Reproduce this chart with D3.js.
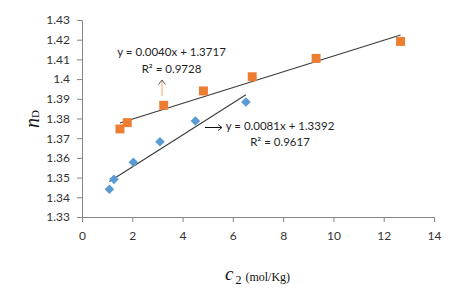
<!DOCTYPE html>
<html>
<head>
<meta charset="utf-8">
<script src="https://cdn.jsdelivr.net/npm/d3@7"></script>
<style>
  body { margin: 0; background: #fff; }
  .tick text { font-family: Lato, "Open Sans", sans-serif; font-size: 12px; fill: #333; }
  .eqn { font-family: Lato, "Open Sans", sans-serif; font-size: 11.5px; fill: #1f1f1f; }
</style>
</head>
<body>
<div id="chart-area"></div>
<script>
// Datos
var blueX = [1.09, 1.27, 2.04, 3.10, 4.51, 6.52];
var blueY = [1.3441, 1.3491, 1.3578, 1.3682, 1.3787, 1.3884];
var orangeX = [1.51, 1.80, 3.25, 4.83, 6.77, 9.31, 12.67];
var orangeY = [1.3747, 1.3779, 1.3867, 1.3940, 1.4012, 1.4105, 1.4191];

// Lineas de tendencia (pendiente, ordenada)
var blueTrend = [0.0081, 1.3392];
var orangeTrend = [0.0040, 1.3717];
var blueLabel = ["y = 0.0081x + 1.3392", "R\u00b2 = 0.9617"];
var orangeLabel = ["y = 0.0040x + 1.3717", "R\u00b2 = 0.9728"];

var xTicks = [0, 2, 4, 6, 8, 10, 12, 14];
var yTicks = [1.33, 1.34, 1.35, 1.36, 1.37, 1.38, 1.39, 1.40, 1.41, 1.42, 1.43];

var W = 460, H = 295;
var margin = {top: 20, right: 26, bottom: 78, left: 82};
var width = W - margin.left - margin.right;
var height = H - margin.top - margin.bottom;

var xScale = d3.scaleLinear().domain([0, 14]).range([0, width]);
var yScale = d3.scaleLinear().domain([1.33, 1.43]).range([height, 0]);

var svg = d3.select("#chart-area").append("svg")
    .attr("width", W)
    .attr("height", H);
var g = svg.append("g")
    .attr("transform", "translate(" + margin.left + "," + margin.top + ")");

// Ejes
var xAxis = g.append("g")
    .attr("transform", "translate(0," + height + ")")
    .call(d3.axisBottom(xScale).tickValues(xTicks).tickSize(5).tickPadding(9).tickFormat(d3.format("d")));
var yAxis = g.append("g")
    .call(d3.axisLeft(yScale).tickValues(yTicks).tickSize(5).tickPadding(7).tickFormat(function(d){ return +d.toFixed(2) + ""; }));
[xAxis, yAxis].forEach(function(a){
    a.select(".domain").attr("stroke", "#868686");
    a.selectAll(".tick line").attr("stroke", "#868686");
});

// Tendencias
function trend(xs, t) {
    var x0 = d3.min(xs), x1 = d3.max(xs);
    g.append("line")
        .attr("x1", xScale(x0)).attr("y1", yScale(t[0] * x0 + t[1]))
        .attr("x2", xScale(x1)).attr("y2", yScale(t[0] * x1 + t[1]))
        .attr("stroke", "#3a3a3a")
        .attr("stroke-width", 1.1);
}
trend(blueX, blueTrend);
trend(orangeX, orangeTrend);

// Puntos
g.selectAll(".azul")
    .data(blueX)
    .enter()
    .append("path")
    .attr("d", d3.symbol().type(d3.symbolSquare).size(46))
    .attr("transform", function(d, i){
        return "translate(" + xScale(d) + "," + yScale(blueY[i]) + ") rotate(45)";
    })
    .attr("fill", "#5B9BD5");

g.selectAll(".naranja")
    .data(orangeX)
    .enter()
    .append("path")
    .attr("d", d3.symbol().type(d3.symbolSquare).size(80))
    .attr("transform", function(d, i){
        return "translate(" + xScale(d) + "," + yScale(orangeY[i]) + ")";
    })
    .attr("fill", "#ED7D31");

// Etiquetas de las ecuaciones
function label(lines, cx, y0) {
    lines.forEach(function(t, i){
        svg.append("text")
            .attr("class", "eqn")
            .attr("text-anchor", "middle")
            .attr("x", cx)
            .attr("y", y0 + i * 16.5)
            .text(t);
    });
}
label(orangeLabel, 171.5, 56);
label(blueLabel, 280, 129.5);

// Flechas
svg.append("line")
    .attr("x1", 162).attr("y1", 96).attr("x2", 162).attr("y2", 81)
    .attr("stroke", "#F4A460").attr("stroke-width", 1);
svg.append("path")
    .attr("d", "M158.5,84.5 L162,80 L165.5,84.5")
    .attr("fill", "none").attr("stroke", "#404040").attr("stroke-width", 0.9);
svg.append("line")
    .attr("x1", 205).attr("y1", 127.5).attr("x2", 221.5).attr("y2", 127.5)
    .attr("stroke", "#111").attr("stroke-width", 1);
svg.append("path")
    .attr("d", "M218,124.5 L222,127.5 L218,130.5")
    .attr("fill", "none").attr("stroke", "#111").attr("stroke-width", 0.9);

// Titulos de ejes
var xt = svg.append("text")
    .attr("x", 225)
    .attr("y", 279.5)
    .style("font-family", "'Liberation Serif', serif")
    .style("fill", "#111");
xt.append("tspan").text("c").style("font-style", "italic").style("font-size", "19px");
xt.append("tspan").text("2").style("font-size", "12px").attr("dx", 2).attr("dy", 4);
xt.append("tspan").text("(mol/Kg)").style("font-size", "12px").attr("dx", 4).attr("dy", -3);

var yt = svg.append("text")
    .attr("transform", "translate(39,128) rotate(-90)")
    .style("font-family", "'Liberation Serif', serif")
    .style("fill", "#111");
yt.append("tspan").text("n").style("font-style", "italic").style("font-size", "20px");
yt.append("tspan").text("D").style("font-size", "11px").attr("dy", 0);
</script>
</body>
</html>
